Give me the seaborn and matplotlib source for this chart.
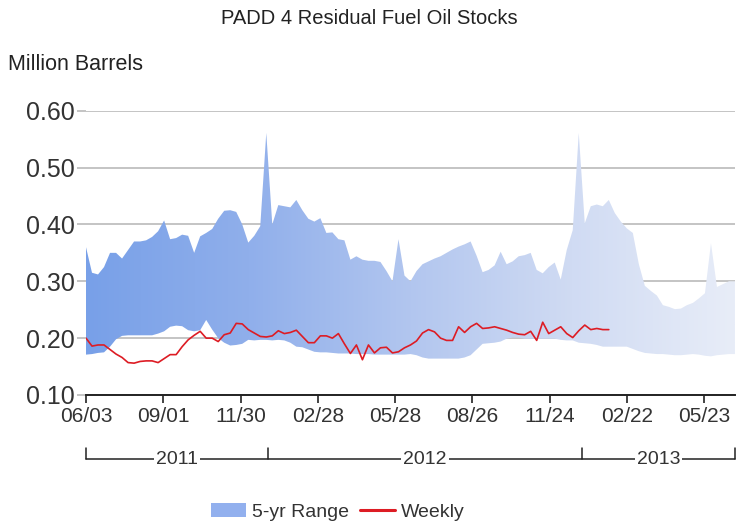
import numpy as np
import pandas as pd
import matplotlib
matplotlib.use("Agg")
import matplotlib.pyplot as plt
import matplotlib.dates as mdates
import matplotlib.transforms as mtransforms
from matplotlib.colors import LinearSegmentedColormap
from matplotlib.patches import Patch
from matplotlib.lines import Line2D
import seaborn as sns

# weekly data, first week 06/03/2011
start = "2011-06-03"
range_upper = [0.360, 0.315, 0.312, 0.325, 0.350, 0.350, 0.340, 0.355, 0.370, 0.370,
               0.372, 0.378, 0.388, 0.407, 0.374, 0.376, 0.382, 0.380, 0.350, 0.379,
               0.385, 0.392, 0.410, 0.424, 0.425, 0.422, 0.400, 0.368, 0.380, 0.397,
               0.561, 0.400, 0.434, 0.432, 0.430, 0.443, 0.425, 0.410, 0.405, 0.411,
               0.385, 0.386, 0.374, 0.372, 0.338, 0.344, 0.338, 0.336, 0.336, 0.334,
               0.318, 0.300, 0.374, 0.310, 0.300, 0.318, 0.330, 0.335, 0.340, 0.344,
               0.350, 0.356, 0.361, 0.365, 0.370, 0.345, 0.316, 0.320, 0.328, 0.352,
               0.330, 0.335, 0.344, 0.346, 0.350, 0.320, 0.314, 0.325, 0.333, 0.303,
               0.355, 0.390, 0.561, 0.402, 0.432, 0.435, 0.432, 0.443, 0.420, 0.405,
               0.393, 0.385, 0.330, 0.292, 0.283, 0.275, 0.258, 0.255, 0.251, 0.252,
               0.258, 0.262, 0.270, 0.279, 0.367, 0.290, 0.295, 0.300, 0.300]
range_lower = [0.171, 0.172, 0.174, 0.175, 0.185, 0.198, 0.204, 0.205, 0.205, 0.205,
               0.205, 0.205, 0.208, 0.212, 0.220, 0.222, 0.221, 0.214, 0.212, 0.214,
               0.232, 0.215, 0.200, 0.192, 0.187, 0.188, 0.190, 0.197, 0.196, 0.197,
               0.197, 0.196, 0.197, 0.196, 0.192, 0.185, 0.184, 0.180, 0.176, 0.175,
               0.175, 0.174, 0.173, 0.173, 0.173, 0.172, 0.172, 0.172, 0.171, 0.171,
               0.171, 0.171, 0.171, 0.171, 0.172, 0.170, 0.166, 0.164, 0.164, 0.164,
               0.164, 0.164, 0.164, 0.166, 0.170, 0.180, 0.190, 0.191, 0.192, 0.194,
               0.199, 0.201, 0.201, 0.199, 0.199, 0.199, 0.199, 0.199, 0.199, 0.197,
               0.196, 0.196, 0.192, 0.191, 0.190, 0.188, 0.185, 0.185, 0.185, 0.185,
               0.185, 0.181, 0.177, 0.174, 0.173, 0.172, 0.172, 0.171, 0.170, 0.170,
               0.171, 0.172, 0.171, 0.169, 0.168, 0.170, 0.171, 0.172, 0.172]
weekly = [0.200, 0.186, 0.188, 0.188, 0.180, 0.172, 0.166, 0.157, 0.156, 0.159,
          0.160, 0.160, 0.157, 0.164, 0.171, 0.171, 0.185, 0.197, 0.205, 0.212,
          0.200, 0.200, 0.194, 0.206, 0.209, 0.226, 0.225, 0.215, 0.209, 0.203,
          0.202, 0.204, 0.213, 0.208, 0.210, 0.214, 0.203, 0.192, 0.192, 0.204,
          0.204, 0.200, 0.208, 0.190, 0.173, 0.188, 0.162, 0.188, 0.174, 0.183,
          0.184, 0.174, 0.176, 0.183, 0.188, 0.195, 0.209, 0.215, 0.211, 0.200,
          0.196, 0.196, 0.220, 0.210, 0.220, 0.226, 0.217, 0.218, 0.220, 0.217,
          0.214, 0.210, 0.207, 0.206, 0.212, 0.196, 0.228, 0.208, 0.214, 0.220,
          0.208, 0.201, 0.213, 0.223, 0.215, 0.217, 0.215, 0.215]

tick_dates = ["2011-06-03", "2011-09-01", "2011-11-30", "2012-02-28", "2012-05-28",
              "2012-08-26", "2012-11-24", "2013-02-22", "2013-05-23"]
tick_labels = ["06/03", "09/01", "11/30", "02/28", "05/28", "08/26", "11/24", "02/22", "05/23"]
year_bounds = ["2011-06-03", "2012-01-01", "2013-01-01", "2013-06-28"]
year_labels = ["2011", "2012", "2013"]
y_ticks = [0.10, 0.20, 0.30, 0.40, 0.50, 0.60]

range_dates = pd.date_range(start, periods=len(range_upper), freq="7D")
weekly_dates = pd.date_range(start, periods=len(weekly), freq="7D")
df = pd.DataFrame({"date": weekly_dates, "stocks": weekly})

sns.set_style("white")
plt.rcParams["font.family"] = ["Liberation Sans", "DejaVu Sans"]
txt = "#333333"

fig = plt.figure(figsize=(7.38, 5.24), dpi=100)
ax = fig.add_axes([86 / 738, 1 - 395 / 524, (735 - 86) / 738, (395 - 110.7) / 524])

sns.lineplot(data=df, x="date", y="stocks", color="#dd1c24", lw=1.2, ax=ax, zorder=4)

# 5-yr range with a left-to-right fade
xnum = mdates.date2num(range_dates)
poly = ax.fill_between(xnum, range_lower, range_upper, facecolor="none", lw=0)
cmap = LinearSegmentedColormap.from_list(
    "rng", ["#78a0e8", "#90afeb", "#b2c6ef", "#d0dbf3", "#e8edf8"])
grad = np.linspace(0, 1, 256).reshape(1, -1)
im = ax.imshow(grad, cmap=cmap, aspect="auto", origin="lower",
               extent=[xnum[0], xnum[-1], 0.1, 0.6], zorder=2)
im.set_clip_path(poly.get_paths()[0], transform=ax.transData)

ax.set_xlim(xnum[0], xnum[-1])
ax.set_ylim(0.1, 0.6)
ax.set_xlabel("")
ax.set_ylabel("")

ax.set_yticks(y_ticks)
ax.set_yticklabels([f"{v:.2f}" for v in y_ticks])
ax.grid(axis="y", color="#b4b4b4", lw=1.1)
ax.grid(axis="x", visible=False)
ax.set_axisbelow(True)
ax.tick_params(axis="y", length=6.5, width=1.1, color="#b4b4b4", pad=1.5,
               labelsize=18, labelcolor=txt, left=True)

ax.set_xticks(mdates.date2num(pd.to_datetime(tick_dates)))
ax.set_xticklabels(tick_labels)
ax.tick_params(axis="x", length=6, width=1.2, color="#222222", pad=2.5,
               labelsize=15, labelcolor=txt, bottom=True, direction="out")

for s in ["top", "right", "left"]:
    ax.spines[s].set_visible(False)
ax.spines["bottom"].set_color("#222222")
ax.spines["bottom"].set_linewidth(1.4)
ax.spines["bottom"].set_zorder(5)

# year bracket under the date labels
trans = mtransforms.blended_transform_factory(ax.transData, ax.transAxes)
yb = (395 - 459) / 284.3
yt = (395 - 448) / 284.3
bnum = mdates.date2num(pd.to_datetime(year_bounds))
ax.plot([bnum[0], bnum[-1]], [yb, yb], transform=trans, clip_on=False, color="#222222", lw=1.1)
for b in bnum:
    ax.plot([b, b], [yt, yb], transform=trans, clip_on=False, color="#222222", lw=1.1)
for lab, a, b in zip(year_labels, bnum[:-1], bnum[1:]):
    ax.text((a + b) / 2, yb, lab, transform=trans, ha="center", va="center",
            fontsize=14, color=txt, bbox=dict(fc="white", ec="none", pad=1.5))

fig.text(0.5, 1 - 18 / 524, "PADD 4 Residual Fuel Oil Stocks", ha="center", va="center",
         fontsize=14.5, color="#222222")
fig.text(8 / 738, 1 - 64 / 524, "Million Barrels", ha="left", va="center",
         fontsize=15.5, color="#222222")

handles = [Patch(facecolor="#92b0ee", edgecolor="none"),
           Line2D([0], [0], color="#dd1c24", lw=2.2)]
fig.legend(handles, ["5-yr Range", "Weekly"], loc="center", ncol=2,
           bbox_to_anchor=(338 / 738, 1 - 512 / 524), frameon=False, fontsize=14,
           handlelength=1.8, handletextpad=0.3, columnspacing=0.6,
           labelcolor=txt)

fig.savefig("out.png", dpi=100)
